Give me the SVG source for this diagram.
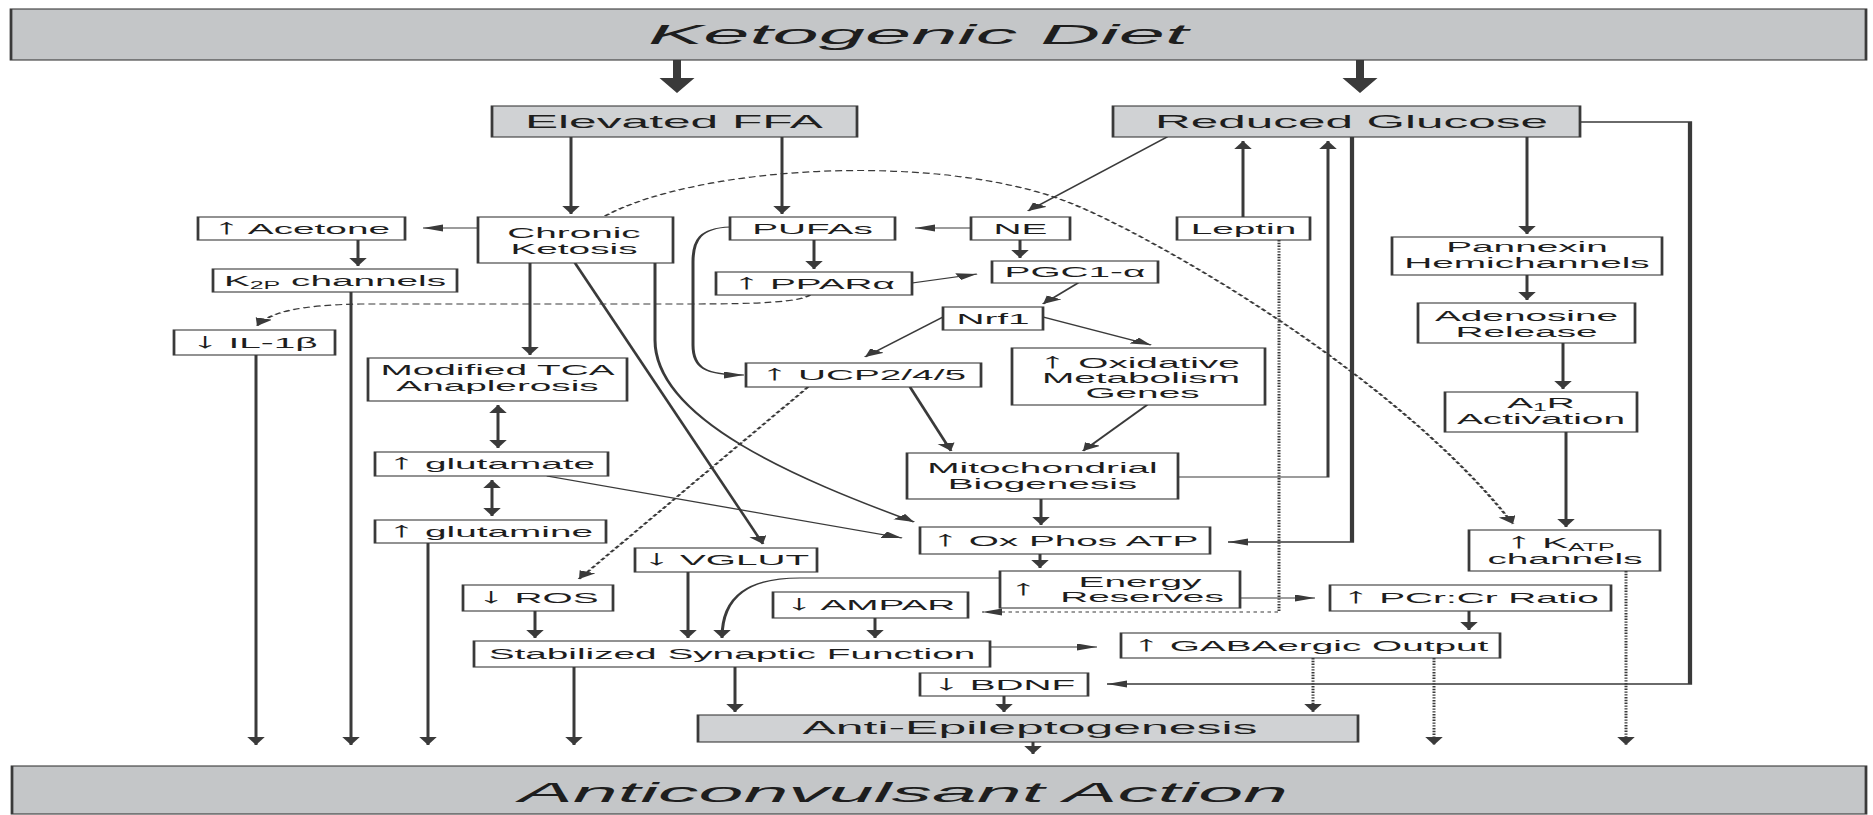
<svg xmlns="http://www.w3.org/2000/svg" width="1873" height="815" viewBox="0 0 1873 815">
<defs>
<style>
.b{fill:#fff;stroke:#3a3a3a;stroke-width:1.1}
.g{fill:#d0d2d4;stroke:#3a3a3a;stroke-width:1.1}
.bn{fill:#c4c6c8;stroke:#3a3a3a;stroke-width:1.1}
text{font-family:"Liberation Sans",Arial,Helvetica,sans-serif;font-size:15.5px;fill:#1e1e1e;text-anchor:middle}
.ar{font-size:21px}
.c{fill:none;stroke:#3a3a3a;stroke-width:1.2}
.a{marker-end:url(#ah)}
.aa{marker-end:url(#ah);marker-start:url(#as)}
.d{stroke-dasharray:2.8 1.6}
.o{stroke-dasharray:1.4 1.4}
.k{stroke-width:1.7}
.th{fill:#3a3a3a}
</style>
<marker id="ah" markerUnits="userSpaceOnUse" markerWidth="10" markerHeight="8" refX="8" refY="3.5" orient="auto"><path d="M0,0L8,3.5L0,7z" fill="#3a3a3a"/></marker>
<marker id="as" markerUnits="userSpaceOnUse" markerWidth="10" markerHeight="8" refX="8" refY="3.5" orient="auto-start-reverse"><path d="M0,0L8,3.5L0,7z" fill="#3a3a3a"/></marker>
</defs>
<rect width="1873" height="815" fill="#fff"/>
<g transform="scale(2.5,1)">
<g id="connectors">
<polygon class="th" points="269.2,60 272.4,60 272.4,78 277.8,78 270.8,93 263.8,78 269.2,78"/>
<polygon class="th" points="542.4,60 545.6,60 545.6,78 551,78 544,93 537,78 542.4,78"/>
<path class="c a" d="M228.4,137V214"/>
<path class="c a" d="M312.8,137V214"/>
<path class="c a" d="M191.2,228H169.2"/>
<path class="c a" d="M143.2,240V266"/>
<path class="c a" d="M388.4,228H366"/>
<path class="c a" d="M466.8,137L411.2,211"/>
<path class="c a" d="M497.2,217V141"/>
<path class="c a" d="M325.6,240V269"/>
<path class="c a" d="M408,240V258"/>
<path class="c a" d="M364.8,283L390.8,274"/>
<path class="c a" d="M431.2,283L417.2,304"/>
<path class="c a" d="M377.2,317L346,357"/>
<path class="c a" d="M417.2,317L460.4,345"/>
<path class="c a d" d="M324,295C320,302 304,304 276,304L144,304C120,305 108,312 102.8,326"/>
<path class="c a" d="M292,227C280,228 277.2,240 277.2,262L277.2,345C277.2,368 282,375 297.6,375"/>
<path class="c a" d="M212,263V355"/>
<path class="c a" d="M230,263L305.2,544"/>
<path class="c a" d="M262,263L262,340C262,420 320,480 365.6,522"/>
<path class="c a" d="M218.8,476L360.8,538"/>
<path class="c aa" d="M199.2,405V448"/>
<path class="c aa" d="M196.8,480V516"/>
<path class="c a d" d="M323.2,387L231.6,579"/>
<path class="c a" d="M364,387L380.4,451"/>
<path class="c a" d="M458.8,405L433.2,451"/>
<path class="c a" d="M416.4,499V525"/>
<path class="c a" d="M471.2,477H531.2V141"/>
<path class="c a k" d="M540.8,137V542H491.2"/>
<path class="c a k" d="M632,122H676V684H442.8"/>
<path class="c a" d="M610.8,137V234"/>
<path class="c a" d="M610.8,275V300"/>
<path class="c a" d="M625.2,343V389"/>
<path class="c a" d="M626.4,432V527"/>
<path class="c a d" d="M242,216C280,165 380,150 432,207C468,246 560,380 605.2,524"/>
<path class="c a o" d="M511.6,240V612H392.8"/>
<path class="c a" d="M416,554V568"/>
<path class="c a" d="M496,598H526"/>
<path class="c a" d="M400,578H320C300,578 288.8,595 288.8,638"/>
<path class="c a" d="M350,618V638"/>
<path class="c a" d="M275.2,572V638"/>
<path class="c a" d="M214,611V638"/>
<path class="c a" d="M396,647H438.8"/>
<path class="c a" d="M229.6,667V745"/>
<path class="c a" d="M294,667V712"/>
<path class="c a" d="M401.6,696V712"/>
<path class="c a" d="M587.6,611V630"/>
<path class="c a o" d="M525.2,658V712"/>
<path class="c a o" d="M573.6,658V745"/>
<path class="c a o" d="M650.4,571V745"/>
<path class="c a" d="M413.2,742V754"/>
<path class="c a" d="M102.4,355V745"/>
<path class="c a" d="M140.4,292V745"/>
<path class="c a" d="M171.2,543V745"/>
</g>
<g id="ketogenic-diet"><rect class="bn" x="4.4" y="9" width="742" height="51"/><text x="259.2" y="44" style="font-size:27px;font-style:italic;text-anchor:start" textLength="216" lengthAdjust="spacingAndGlyphs">Ketogenic Diet</text></g>
<g id="elevated-ffa"><rect class="g" x="196.8" y="106" width="146" height="31"/><text x="210" y="128" style="font-size:18.5px;text-anchor:start" textLength="119.2" lengthAdjust="spacingAndGlyphs">Elevated FFA</text></g>
<g id="reduced-glucose"><rect class="g" x="445.2" y="106" width="186.8" height="31"/><text x="462" y="128" style="font-size:18.5px;text-anchor:start" textLength="157.2" lengthAdjust="spacingAndGlyphs">Reduced Glucose</text></g>
<g id="acetone"><rect class="b" x="79.2" y="217" width="82.8" height="23"/><text x="120.6" y="234"><tspan class="ar">↑</tspan> Acetone</text></g>
<g id="chronic-ketosis"><rect class="b" x="191.2" y="217" width="78" height="46"/><text x="229.6" y="238">Chronic</text><text x="229.6" y="254">Ketosis</text></g>
<g id="pufas"><rect class="b" x="292" y="217" width="66" height="23"/><text x="325" y="234">PUFAs</text></g>
<g id="ne"><rect class="b" x="388.4" y="217" width="39.6" height="23"/><text x="408.2" y="234">NE</text></g>
<g id="leptin"><rect class="b" x="470.8" y="217" width="53.2" height="23"/><text x="497.4" y="234">Leptin</text></g>
<g id="pannexin"><rect class="b" x="556.8" y="237" width="108" height="38"/><text x="610.8" y="252">Pannexin</text><text x="610.8" y="268">Hemichannels</text></g>
<g id="k2p"><rect class="b" x="85.2" y="269" width="97.6" height="23"/><text x="134" y="286">K<tspan font-size="10" dy="3">2P</tspan><tspan dy="-3"> channels</tspan></text></g>
<g id="ppara"><rect class="b" x="286.4" y="272" width="78.4" height="23"/><text x="325.6" y="289"><tspan class="ar">↑</tspan> PPARα</text></g>
<g id="pgc1a"><rect class="b" x="396.8" y="261" width="66.4" height="22"/><text x="430" y="277.5">PGC1-α</text></g>
<g id="adenosine"><rect class="b" x="567.2" y="303" width="86.8" height="40"/><text x="610.6" y="321">Adenosine</text><text x="610.6" y="337">Release</text></g>
<g id="il1b"><rect class="b" x="69.6" y="330" width="64.4" height="25"/><text x="101.8" y="348"><tspan class="ar">↓</tspan> IL-1β</text></g>
<g id="nrf1"><rect class="b" x="377.2" y="307" width="40" height="23"/><text x="397.2" y="324">Nrf1</text></g>
<g id="tca"><rect class="b" x="147.2" y="358" width="103.6" height="43"/><text x="199" y="375">Modified TCA</text><text x="199" y="391">Anaplerosis</text></g>
<g id="ucp"><rect class="b" x="298.4" y="363" width="94" height="24"/><text x="345.4" y="380.5"><tspan class="ar">↑</tspan> UCP2/4/5</text></g>
<g id="oxidative"><rect class="b" x="404.8" y="348" width="101.2" height="57"/><text x="415.6" y="368" class="ar" style="text-anchor:start">↑</text><text x="463.6" y="368">Oxidative</text><text x="456.4" y="383">Metabolism</text><text x="457" y="398">Genes</text></g>
<g id="a1r"><rect class="b" x="578" y="392" width="76.8" height="40"/><text x="616.4" y="408">A<tspan font-size="10" dy="3">1</tspan><tspan dy="-3">R</tspan></text><text x="616.4" y="424">Activation</text></g>
<g id="glutamate"><rect class="b" x="150" y="452" width="93.2" height="24"/><text x="196.6" y="469.5"><tspan class="ar">↑</tspan> glutamate</text></g>
<g id="mito"><rect class="b" x="362.8" y="453" width="108.4" height="46"/><text x="417" y="473">Mitochondrial</text><text x="417" y="489">Biogenesis</text></g>
<g id="glutamine"><rect class="b" x="150" y="520" width="92.4" height="23"/><text x="196.2" y="537"><tspan class="ar">↑</tspan> glutamine</text></g>
<g id="oxphos"><rect class="b" x="368" y="527" width="116" height="27"/><text x="426" y="546"><tspan class="ar">↑</tspan> Ox Phos ATP</text></g>
<g id="katp"><rect class="b" x="587.6" y="530" width="76.4" height="41"/><text x="624" y="548"><tspan class="ar">↑</tspan> K<tspan font-size="10" dy="3">ATP</tspan></text><text x="626" y="564">channels</text></g>
<g id="vglut"><rect class="b" x="254" y="548" width="72.8" height="24"/><text x="290.4" y="565.5"><tspan class="ar">↓</tspan> VGLUT</text></g>
<g id="ros"><rect class="b" x="185.2" y="585" width="60" height="26"/><text x="215.2" y="603.5"><tspan class="ar">↓</tspan> ROS</text></g>
<g id="energy"><rect class="b" x="400" y="571" width="96" height="37"/><text x="409.2" y="595" class="ar">↑</text><text x="456" y="587">Energy</text><text x="456.8" y="602">Reserves</text></g>
<g id="ampar"><rect class="b" x="309.2" y="592" width="78" height="26"/><text x="348.2" y="610.5"><tspan class="ar">↓</tspan> AMPAR</text></g>
<g id="pcr"><rect class="b" x="532" y="585" width="112.4" height="26"/><text x="588.2" y="603.5"><tspan class="ar">↑</tspan> PCr:Cr Ratio</text></g>
<g id="ssf"><rect class="b" x="189.6" y="641" width="206.4" height="26"/><text x="292.8" y="659.5">Stabilized Synaptic Function</text></g>
<g id="gaba"><rect class="b" x="448.4" y="633" width="151.6" height="25"/><text x="524.2" y="651"><tspan class="ar">↑</tspan> GABAergic Output</text></g>
<g id="bdnf"><rect class="b" x="368" y="673" width="67.2" height="23"/><text x="401.6" y="690"><tspan class="ar">↓</tspan> BDNF</text></g>
<g id="anti-epileptogenesis"><rect class="g" x="279.2" y="715" width="264" height="27"/><text x="412" y="734" style="font-size:18.5px" textLength="182" lengthAdjust="spacingAndGlyphs">Anti-Epileptogenesis</text></g>
<g id="anticonvulsant-action"><rect class="bn" x="4.8" y="766" width="741.6" height="48"/><text x="207.6" y="802" style="font-size:28px;font-style:italic;text-anchor:start" textLength="307.6" lengthAdjust="spacingAndGlyphs">Anticonvulsant Action</text></g>
</g>
</svg>
